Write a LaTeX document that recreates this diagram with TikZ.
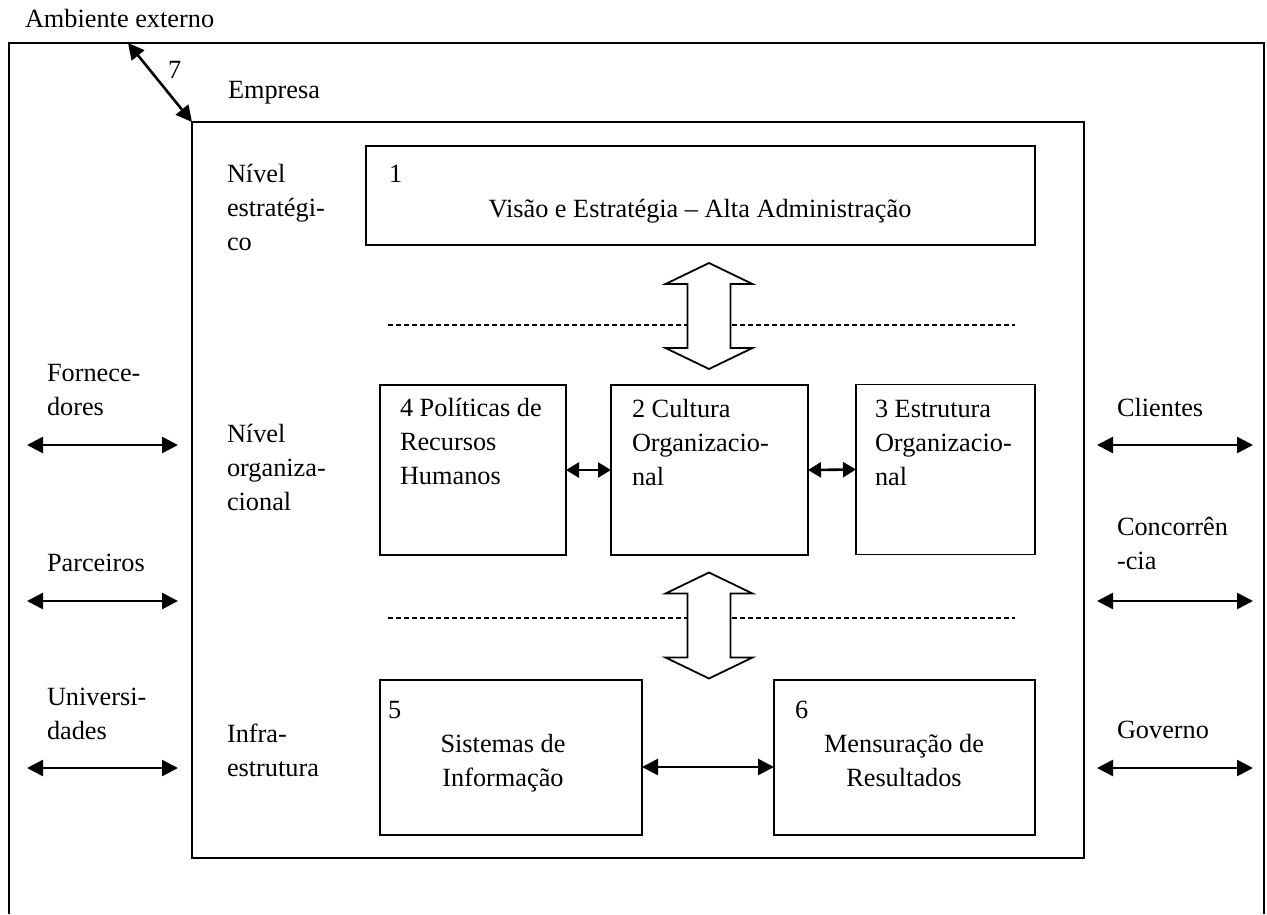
\documentclass[tikz,border=0pt]{standalone}
\usepackage{fontspec}
\setmainfont{Liberation Serif}
\usetikzlibrary{arrows.meta}

% stacked lines, baseline of the node = baseline of the first line
\newcommand\leftlines[1]{\vtop{\halign{##\hfil\cr#1\crcr}}}
\newcommand\centerlines[1]{\vtop{\halign{\hfil##\hfil\cr#1\crcr}}}

\begin{document}
\begin{tikzpicture}[x=1pt,y=-1pt,
  txt/.style={inner sep=0pt, outer sep=0pt, font=\fontsize{26.3}{34}\selectfont},
  lbl/.style={txt, anchor=base west},
  clbl/.style={txt, anchor=base},
  box/.style={draw, line width=1.8pt, inner sep=0pt, outer sep=0pt},
  link/.style={line width=2.6pt, {Triangle[length=16pt,width=16pt]}-{Triangle[length=16pt,width=16pt]}},
  shortlink/.style={line width=2.6pt, {Triangle[length=13pt,width=15pt]}-{Triangle[length=13pt,width=15pt]}},
  levelsep/.style={line width=1.4pt, dash pattern=on 5pt off 3pt},
  hollow/.style={draw, fill=white, line width=1.8pt, line join=miter},
  hollow arrow/.pic={
    \path[hollow] (0,-53) -- (43.5,-32) -- (21.5,-32) -- (21.5,32) -- (43.5,32)
      -- (0,53) -- (-43.5,32) -- (-21.5,32) -- (-21.5,-32) -- (-43.5,-32) -- cycle;}
]
\useasboundingbox (0,0) rectangle (1267,914);

% outer environment frame (open at the bottom)
\coordinate (osw) at (9,914);
\coordinate (onw) at (9,43);
\coordinate (one) at (1264,43);
\coordinate (ose) at (1264,914);
\draw[line width=1.8pt] (osw) -- (onw) -- (one) -- (ose);

% company frame
\node[box, minimum width=892pt, minimum height=736pt] (emp) at (638,490) {};

% boxes
\node[box, minimum width=669pt, minimum height=99pt]  (b1) at (700.5,195.5) {};
\node[box, minimum width=186pt, minimum height=170pt] (b4) at (473,470) {};
\node[box, minimum width=197pt, minimum height=170pt] (b2) at (709.5,470) {};
\node[box, minimum width=179pt, minimum height=170pt] (b3) at (945.5,469.5) {};
\node[box, minimum width=262pt, minimum height=155pt] (b5) at (511,757.5) {};
\node[box, minimum width=261pt, minimum height=155pt] (b6) at (904.5,757.5) {};

% level separators
\coordinate (s1a) at (388,325);  \coordinate (s1b) at (1015,325);
\coordinate (s2a) at (388,618);  \coordinate (s2b) at (1015,618);
\draw[levelsep] (s1a) -- (s1b);
\draw[levelsep] (s2a) -- (s2b);

% wide vertical double arrows between levels
\coordinate (ha1) at (709,316);
\coordinate (ha2) at (709,625.5);
\pic at (ha1) {hollow arrow};
\pic at (ha2) {hollow arrow};

% links between boxes
\draw[shortlink] (b4.east) -- (b2.west);
\draw[shortlink] (b2.east) -- (b3.west);
\draw[link] ([yshift=-9.5pt]b5.east) -- ([yshift=-9.5pt]b6.west);

% company <-> environment
\coordinate (a7) at (128,43);
\draw[link] (a7) -- (emp.north west);

% external actors
\coordinate (l1a) at (27,445);   \coordinate (l1b) at (178,445);
\coordinate (l2a) at (27,601);   \coordinate (l2b) at (178,601);
\coordinate (l3a) at (27,768);   \coordinate (l3b) at (178,768);
\coordinate (r1a) at (1097,445); \coordinate (r1b) at (1253,445);
\coordinate (r2a) at (1097,601); \coordinate (r2b) at (1253,601);
\coordinate (r3a) at (1097,768); \coordinate (r3b) at (1253,768);
\draw[link] (l1a) -- (l1b);
\draw[link] (l2a) -- (l2b);
\draw[link] (l3a) -- (l3b);
\draw[link] (r1a) -- (r1b);
\draw[link] (r2a) -- (r2b);
\draw[link] (r3a) -- (r3b);

% texts
\node[lbl] (tamb) at (25,27) {Ambiente externo};
\node[lbl] (t7) at (168,78) {7};
\node[lbl] (temp) at (228,98) {Empresa};
\node[lbl] (tniv1) at (227,182) {\leftlines{Nível\cr estratégi-\cr co}};
\node[lbl] (tniv2) at (227,442) {\leftlines{Nível\cr organiza-\cr cional}};
\node[lbl] (tniv3) at (227,742) {\leftlines{Infra-\cr estrutura}};
\node[lbl] (tn1) at (389,182) {1};
\node[clbl] (tvis) at (700,217) {Visão e Estratégia – Alta Administração};
\node[lbl] (tpol) at (400,416) {\leftlines{4 Políticas de\cr Recursos\cr Humanos}};
\node[lbl] (tcul) at (632,417) {\leftlines{2 Cultura\cr Organizacio-\cr nal}};
\node[lbl] (test) at (875,417) {\leftlines{3 Estrutura\cr Organizacio-\cr nal}};
\node[lbl] (tn5) at (388,718) {5};
\node[clbl] (tsis) at (503,752) {\centerlines{Sistemas de\cr Informação}};
\node[lbl] (tn6) at (795,718) {6};
\node[clbl] (tmen) at (904,752) {\centerlines{Mensuração de\cr Resultados}};
\node[lbl] (tfor) at (47,381) {\leftlines{Fornece-\cr dores}};
\node[lbl] (tpar) at (47,571) {Parceiros};
\node[lbl] (tuni) at (47,705) {\leftlines{Universi-\cr dades}};
\node[lbl] (tcli) at (1117,416) {Clientes};
\node[lbl] (tcon) at (1117,535) {\leftlines{Concorrên\cr -cia}};
\node[lbl] (tgov) at (1117,738) {Governo};
\end{tikzpicture}
\end{document}
